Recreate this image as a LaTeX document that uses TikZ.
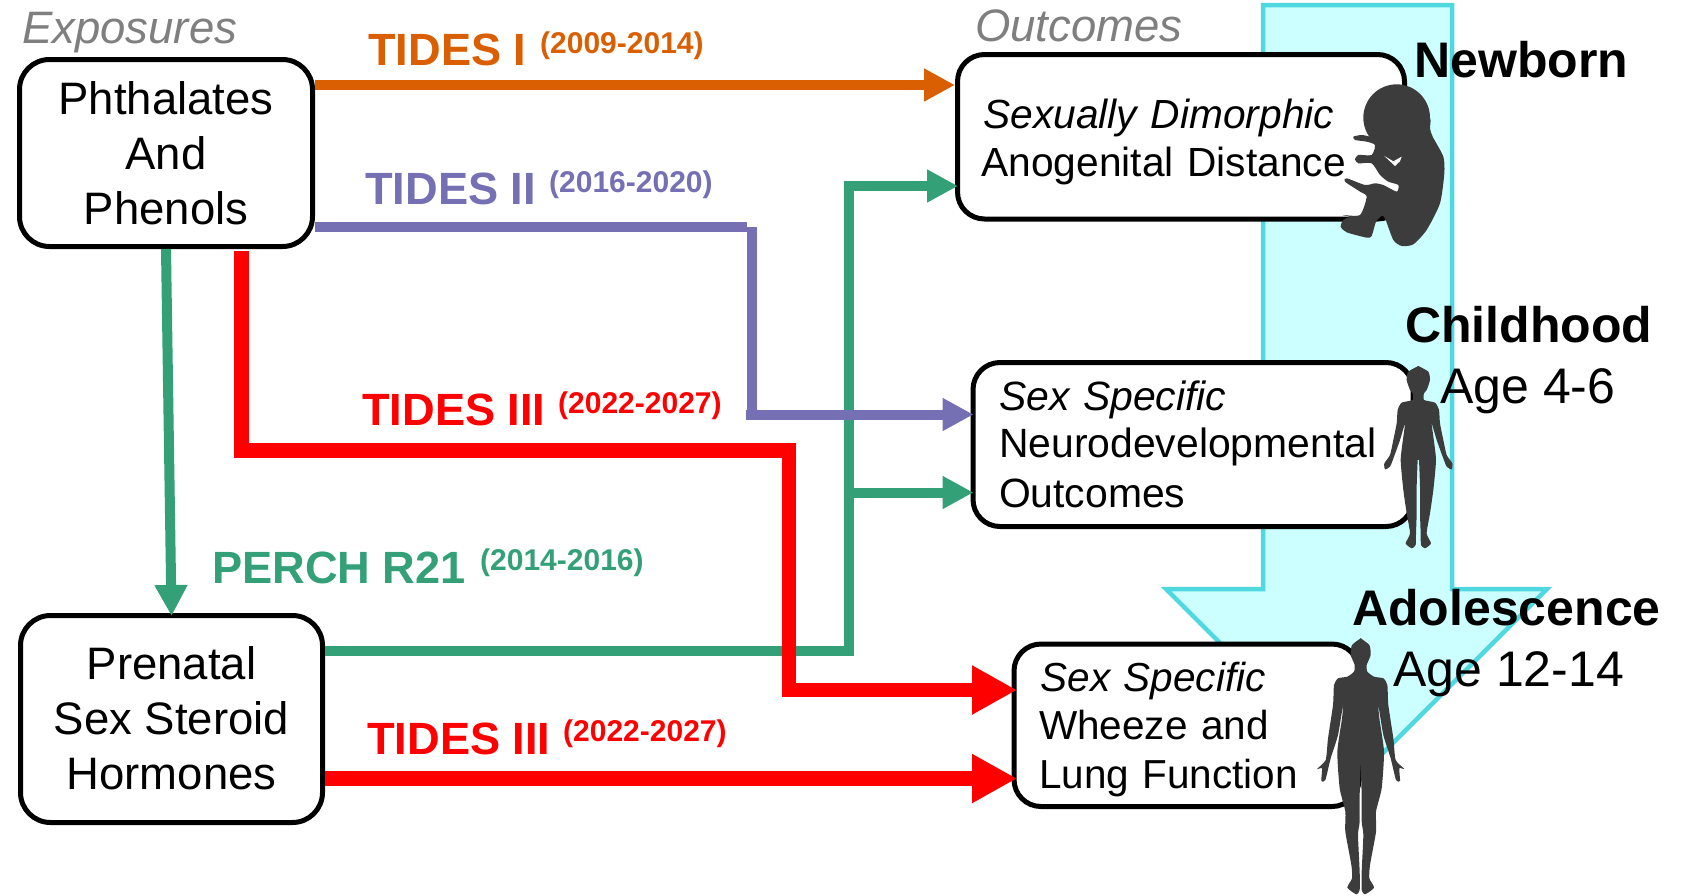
\documentclass[tikz,border=0pt]{standalone}
\usepackage{fontspec}
\setmainfont{Liberation Sans}
\usetikzlibrary{arrows.meta}
\definecolor{cOrange}{HTML}{D95F02}
\definecolor{cPurple}{HTML}{7570B3}
\definecolor{cGreen}{HTML}{33A077}
\definecolor{cRed}{HTML}{FF0000}
\definecolor{cFill}{HTML}{CCFFFF}
\definecolor{cEdge}{HTML}{4FD8E0}
\definecolor{cGrey}{HTML}{7F7F7F}
\definecolor{cBody}{HTML}{3C3C3C}
\newcommand{\topr}[1]{\rule{0pt}{#1pt}}
\newcommand{\botr}[1]{\rule[-#1pt]{0pt}{#1pt}}
\tikzset{
  exposurebox/.style={draw=black,line width=5pt,fill=white,rounded corners=30pt,inner sep=0pt,align=center,
    font=\fontsize{45.5}{55}\selectfont},
  outcomebox/.style={draw=black,line width=5pt,fill=white,rounded corners=27pt,inner ysep=0pt,align=left,
    font=\fontsize{40.9}{49}\selectfont},
  tag/.style={anchor=base west,inner sep=0pt},
  study/.style={tag,font=\fontsize{45.2}{50}\selectfont\bfseries},
  years/.style={tag,font=\fontsize{30}{34}\selectfont\bfseries},
  heading/.style={tag,text=cGrey,font=\fontsize{45.5}{50}\selectfont\itshape},
  stage/.style={tag,font=\fontsize{50}{54}\selectfont\bfseries},
  age/.style={tag,font=\fontsize{50}{54}\selectfont},
  thinline/.style={line width=10pt},
  thinlink/.style={line width=10pt,-{Triangle[length=31pt,width=31pt]}},
  thicklink/.style={line width=14.5pt,-{Triangle[length=45pt,width=46pt]}},
  body/.style={fill=cBody,draw=none},
}
\begin{document}
\begin{tikzpicture}[x=1pt,y=-1pt]
\useasboundingbox (0,0) rectangle (1694,895);

% timeline arrow
\draw[draw=cEdge,fill=cFill,line width=4.5pt,miter limit=10]
  (1263,5) -- (1452,5) -- (1452,589) -- (1547,589) -- (1356.5,779.5) -- (1166,589) -- (1263,589) -- cycle;

% boxes
\node[exposurebox,minimum width=293pt,minimum height=187pt] (b1) at (166,153)
  {\topr{44}Phthalates\\And\\Phenols\botr{12}};
\node[exposurebox,minimum width=302pt,minimum height=207pt] (b2) at (171.5,719)
  {\topr{43.5}Prenatal\\Sex Steroid\\Hormones\botr{12}};
\node[outcomebox,font=\fontsize{40.7}{49}\selectfont,minimum width=447pt,minimum height=164.5pt,text width=399pt,inner xsep=24pt] (b3) at (1181,136.75)
  {\topr{41.5}\hspace*{2pt}{\itshape Sexually Dimorphic}\\[-1pt]Anogenital Distance\botr{10}};
\node[outcomebox,minimum width=440pt,minimum height=164pt,text width=388pt,inner xsep=26pt] (b4) at (1193,444.5)
  {\topr{38}{\itshape Sex Specific}\\[-1.5pt]Neurodevelopmental\\[0.5pt]Outcomes\botr{10}};
\node[outcomebox,font=\fontsize{40.5}{49}\selectfont,minimum width=345pt,minimum height=162.5pt,text width=295pt,inner xsep=25pt] (b5) at (1186.5,725.25)
  {\topr{38.5}\hspace*{1.5pt}{\itshape Sex Specific}\\[-0.5pt]Wheeze and\\[-0.5pt]Lung Function\botr{10}};

% bends
\coordinate (pc0) at (747,227);
\coordinate (pc1) at (752,227);
\coordinate (pc2) at (752,410);
\coordinate (pc3) at (746,414.5);
\coordinate (gc1) at (848.5,651);
\coordinate (gc2) at (848.5,186);
\coordinate (gc3) at (848.5,492.5);
\coordinate (rc1) at (241.5,450.5);
\coordinate (rc2) at (789,450.5);
\coordinate (rc3) at (789,690);

% connectors
\draw[thinlink,cOrange] (b1.east |- 0,85) -- (b3.west |- 0,85);
\draw[thinlink,cGreen,shorten >=-3pt] (b1.south) -- (b2.north);
\draw[thinlink,cGreen,shorten >=-3pt] (b2.east |- gc1) -- (gc1) -- (gc2) -- (b3.west |- gc2);
\draw[thinlink,cGreen,shorten >=-3pt] (gc3) -- (b4.west |- gc3);
\draw[thinline,cPurple] (b1.east |- pc1) -- (pc0) (pc1) -- (pc2);
\draw[thinlink,cPurple,shorten >=-3pt] (pc3) -- (b4.west |- pc3);
\draw[thicklink,cRed,shorten <=2pt,shorten >=-5.5pt] (rc1 |- b1.south) -- (rc1) -- (rc2) -- (rc3) -- (b5.west |- rc3);
\draw[thicklink,cRed,shorten >=-5.5pt] (b2.east |- 0,778.5) -- (b5.west |- 0,778.5);

% fetus
\begin{scope}[shift={(1250,0)},x=0.3333pt,y=-0.3333pt]
\fill[body] (440,353) circle[radius=100];
\fill[body] plot[smooth cycle,tension=.4] coordinates {
  (500,300) (540,353) (540,385) (548,410) (580,470) (583,520) (570,610) (530,690) (490,733)
  (455,738) (430,720) (405,655) (395,648) (378,665) (365,708) (350,713) (290,697) (272,680) (280,660)
  (298,650) (278,645) (330,645) (350,590) (330,575) (285,545) (290,535) (345,555) (375,550) (400,555)
  (440,575) (445,555) (415,545) (390,525) (365,490) (325,490) (315,478) (325,465) (365,465) (375,435)
  (350,425) (315,420) (310,410) (335,405) (360,410) (400,420)};
\fill[white] (403,468) -- (430,484) -- (455,470) -- (450,484) -- (435,498) -- cycle;
\end{scope}

% child
\foreach \s in {1,-1}{
\begin{scope}[shift={(1418.33,300)},x=\s*0.3333pt,y=-0.3333pt]
\fill[body] plot[smooth,tension=.35] coordinates {
  (0,198) (30,215) (35,240) (25,270) (17,280) (17,300) (50,308) (62,330) (65,370) (75,420) (85,465)
  (102,490) (100,508) (85,500) (73,470) (55,420) (40,370) (45,410) (53,480) (45,570) (35,640) (25,700)
  (38,730) (20,745) (8,735) (7,700) (5,640) (5,560) (2,480) (0,480)} -- (-2,480) -- (-2,198) -- cycle;
\end{scope}
}

% adolescent
\foreach \s in {1,-1}{
\begin{scope}[shift={(1360.67,595)},x=\s*0.3333pt,y=-0.3333pt]
\fill[body] plot[smooth,tension=.35] coordinates {
  (0,130) (26,150) (30,180) (18,210) (20,230) (40,245) (68,250) (80,270) (83,330) (98,430) (105,495)
  (131,522) (116,520) (118,558) (106,555) (90,490) (68,420) (53,330) (56,370) (70,470) (63,580) (46,650)
  (46,710) (28,810) (26,850) (40,878) (13,898) (3,885) (3,830) (8,720) (3,680) (3,600) (0,510)} -- (-2,510) -- (-2,130) -- cycle;
\end{scope}
}

% labels
\node[heading] (hExp) at (22,43.7) {Exposures};
\node[heading] (hOut) at (975,41) {Outcomes};
\node[study,text=cOrange] (t1) at (368,65.7) {TIDES I};
\node[years,text=cOrange] (y1) at (540,53) {(2009-2014)};
\node[study,text=cPurple] (t2) at (365,204) {TIDES II};
\node[years,text=cPurple] (y2) at (549,192) {(2016-2020)};
\node[study,text=cRed] (t3) at (362,425) {TIDES III};
\node[years,text=cRed] (y3) at (558,413) {(2022-2027)};
\node[study,text=cGreen] (t4) at (212,583) {PERCH R21};
\node[years,text=cGreen] (y4) at (480,570) {(2014-2016)};
\node[study,text=cRed] (t5) at (367,754) {TIDES III};
\node[years,text=cRed] (y5) at (563,741) {(2022-2027)};
\node[stage] (s1) at (1414,77) {Newborn};
\node[stage] (s2) at (1405,342) {Childhood};
\node[age] (a2) at (1440,403) {Age 4-6};
\node[stage] (s3) at (1352,625) {Adolescence};
\node[age] (a3) at (1393,686) {Age 12-14};
\end{tikzpicture}
\end{document}
